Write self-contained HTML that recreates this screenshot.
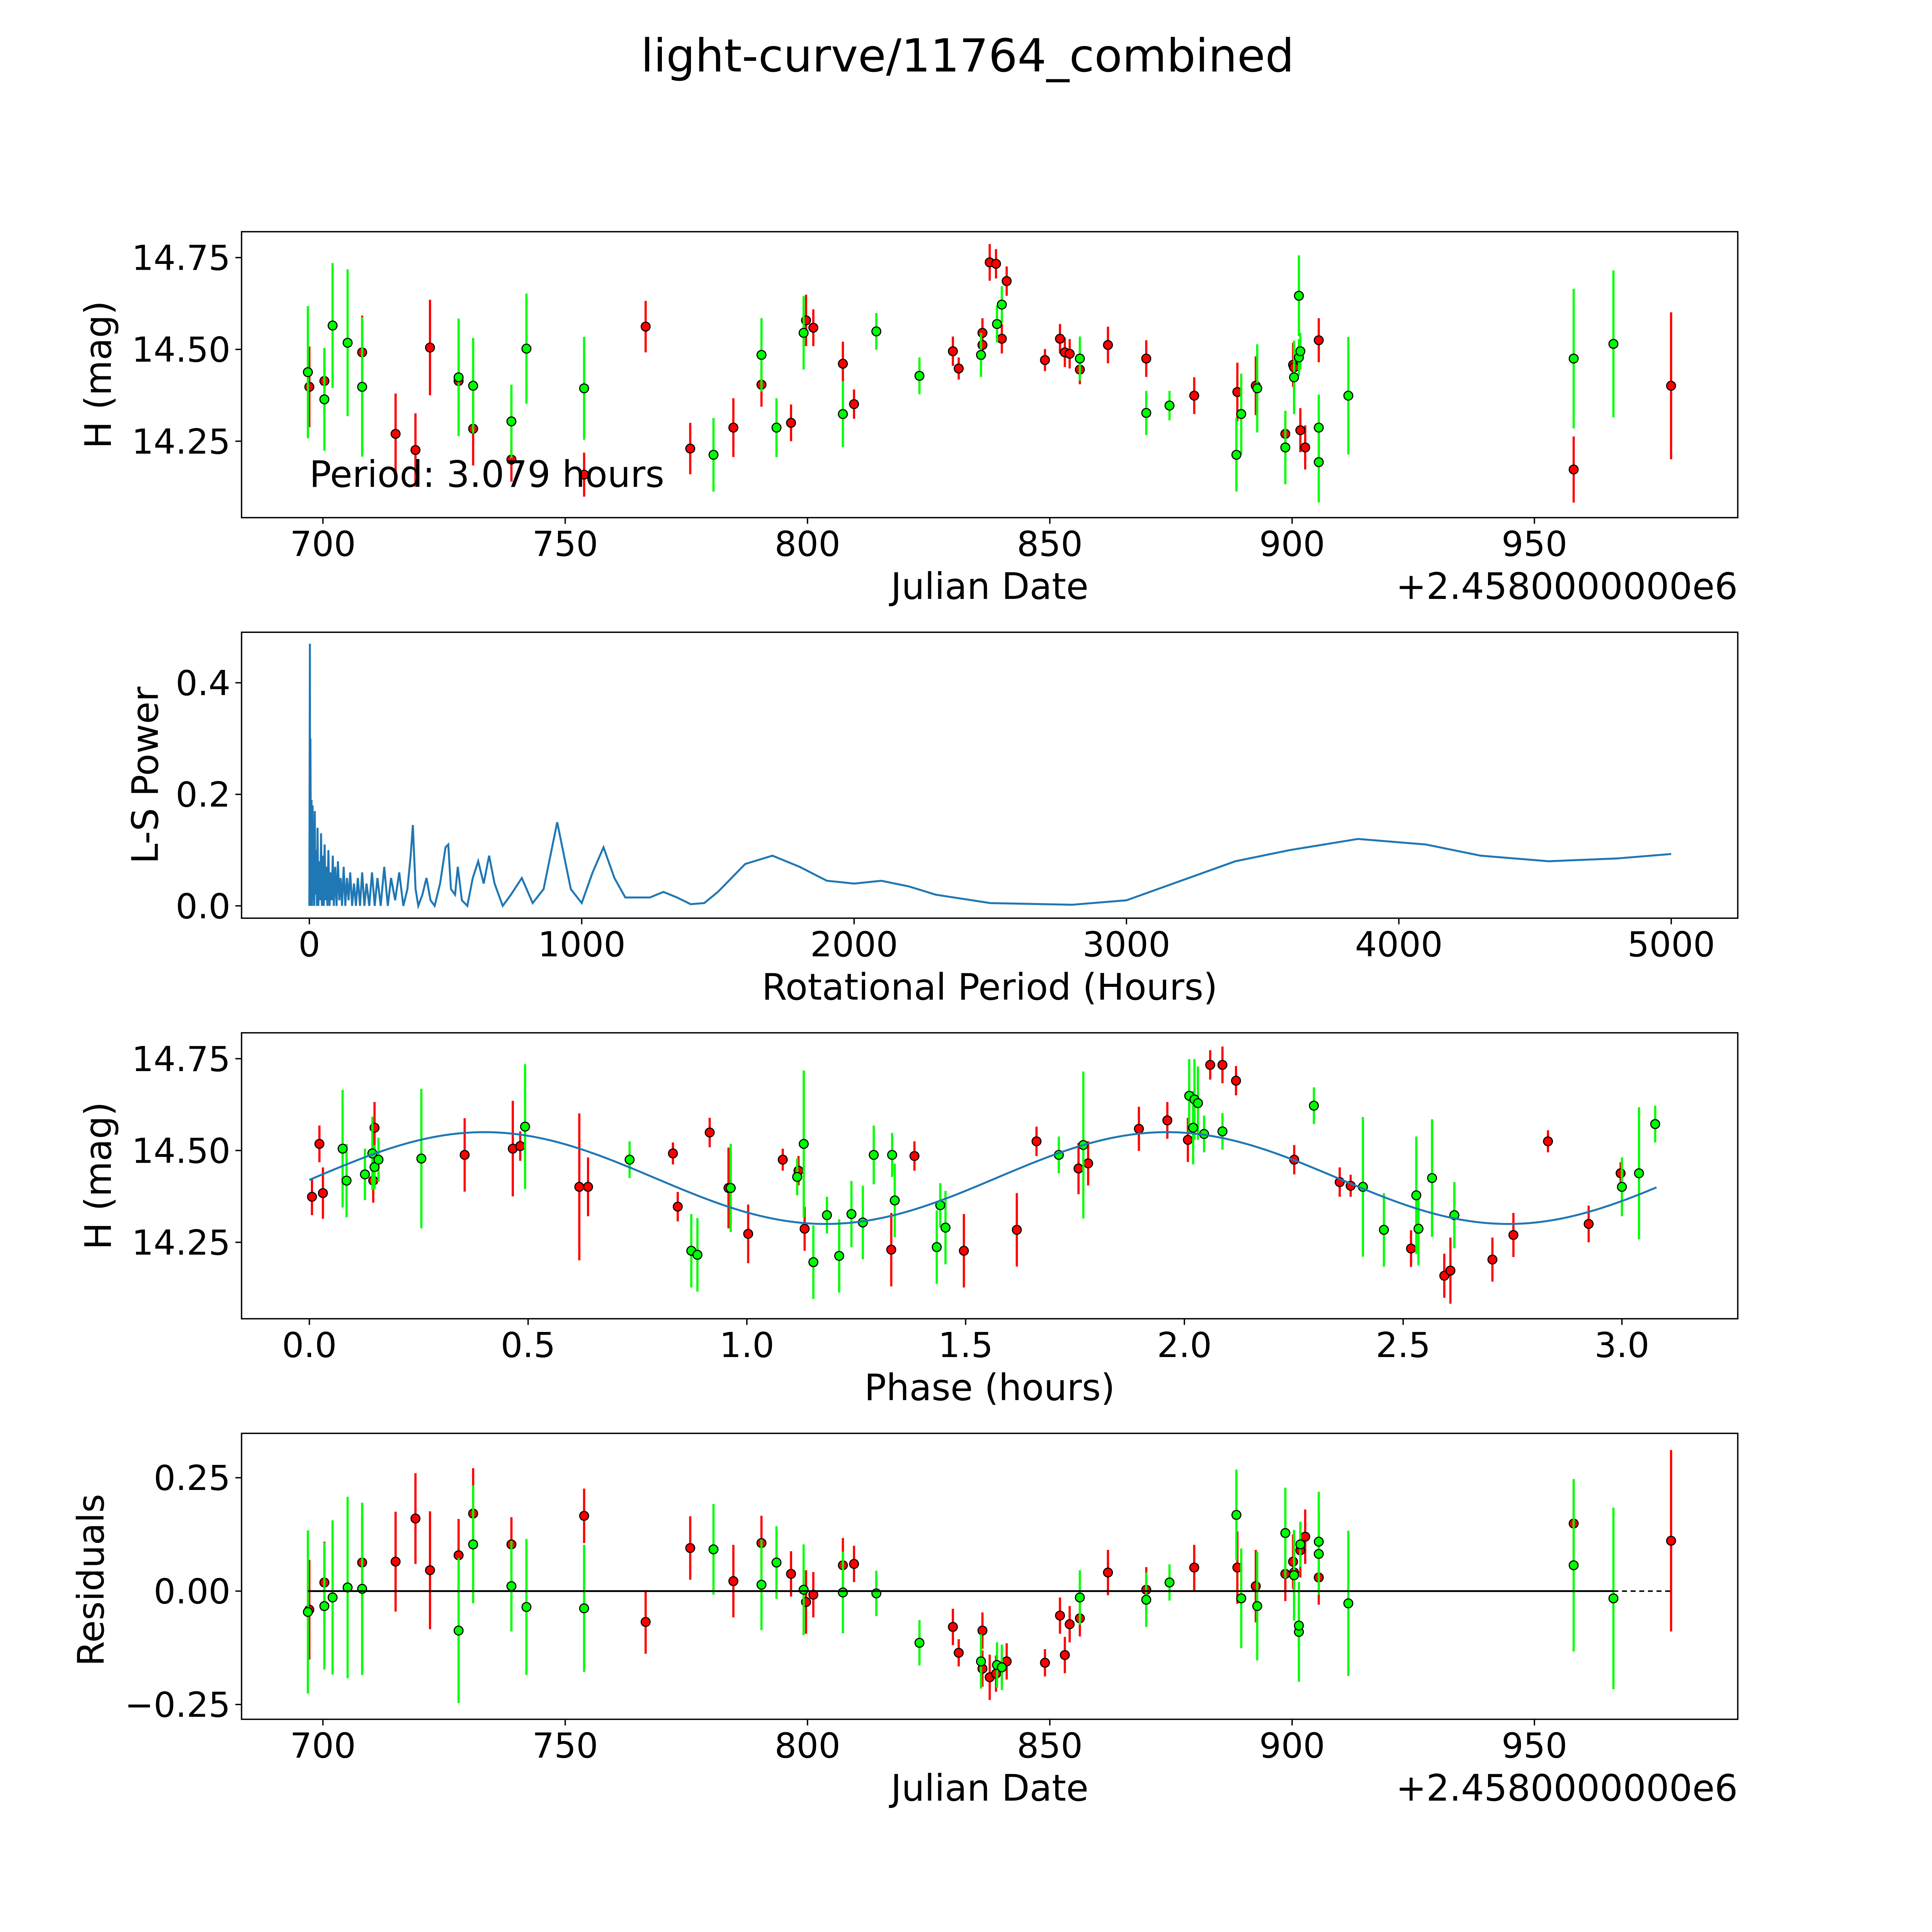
<!DOCTYPE html>
<html><head><meta charset="utf-8"><style>
html,body{margin:0;padding:0;background:#fff;overflow:hidden}
svg{display:block}
text{font-family:"DejaVu Sans","Liberation Sans",sans-serif;fill:#000}
</style></head><body>
<svg id="fig" width="5400" height="5400" viewBox="0 0 1693 1693" xmlns="http://www.w3.org/2000/svg">
<rect width="1693" height="1693" fill="#fff"/>
<text x="785" y="58" font-size="37" text-anchor="middle">light-curve/11764_combined</text>
<g id="g1"></g>
<g id="g2"></g>
<g id="g3"></g>
<g id="g4"></g>
</svg>
<script>
// ---- light curve data ----
const greenDates=[696.9,700.3,702.0,705.1,708.1,728.0,731.0,738.9,742.0,753.9,780.6,790.5,793.6,799.2,807.3,814.2,823.1,835.8,839.1,840.1,856.2,869.9,874.7,888.5,889.5,892.8,898.6,900.4,901.4,901.4,901.7,905.5,905.5,911.6,958.1,966.3];
const greenMags=[14.438,14.364,14.565,14.518,14.398,14.424,14.401,14.304,14.502,14.394,14.213,14.485,14.287,14.545,14.324,14.549,14.428,14.485,14.569,14.622,14.475,14.327,14.347,14.213,14.324,14.394,14.233,14.424,14.646,14.478,14.495,14.193,14.287,14.374,14.475,14.515];
const greenErrs=[0.18,0.14,0.17,0.2,0.19,0.16,0.13,0.1,0.15,0.14,0.1,0.1,0.08,0.1,0.09,0.05,0.05,0.06,0.05,0.05,0.06,0.06,0.04,0.1,0.11,0.12,0.1,0.1,0.11,0.05,0.05,0.11,0.09,0.16,0.19,0.2];
const greenRes=[-0.046,-0.033,-0.014,0.008,0.005,-0.087,0.103,0.011,-0.035,-0.038,0.092,0.014,0.063,0.003,-0.003,-0.005,-0.114,-0.155,-0.163,-0.168,-0.014,-0.019,0.019,0.168,-0.016,-0.033,0.128,0.035,-0.090,-0.076,0.103,0.109,0.082,-0.027,0.057,-0.016];
const redDates=[697.2,700.3,708.1,715.0,719.1,722.1,728.0,731.0,738.9,753.9,766.6,775.8,784.7,790.5,796.6,799.7,801.2,807.3,809.6,830.0,831.2,836.1,836.1,837.6,838.9,840.1,841.1,849.0,852.1,853.1,854.1,856.2,862.0,869.9,879.8,888.7,892.5,898.6,900.2,900.4,901.7,902.7,905.5,958.1,978.2];
const redMags=[14.398,14.414,14.492,14.270,14.226,14.505,14.414,14.284,14.200,14.159,14.562,14.230,14.287,14.404,14.300,14.579,14.559,14.461,14.351,14.495,14.448,14.545,14.512,14.737,14.733,14.529,14.686,14.471,14.529,14.492,14.488,14.445,14.512,14.475,14.374,14.384,14.401,14.270,14.458,14.451,14.280,14.233,14.525,14.173,14.401];
const redErrs=[0.11,0.09,0.1,0.11,0.1,0.13,0.08,0.1,0.06,0.06,0.07,0.07,0.08,0.06,0.05,0.07,0.05,0.06,0.04,0.04,0.03,0.04,0.04,0.05,0.04,0.04,0.04,0.03,0.04,0.04,0.04,0.04,0.05,0.05,0.05,0.08,0.08,0.06,0.06,0.05,0.06,0.06,0.06,0.09,0.2];
const redRes=[-0.041,0.019,0.063,0.065,0.160,0.046,0.079,0.171,0.103,0.166,-0.068,0.095,0.022,0.106,0.038,-0.024,-0.008,0.057,0.060,-0.079,-0.136,-0.087,-0.171,-0.190,-0.182,-0.168,-0.155,-0.158,-0.054,-0.141,-0.073,-0.06,0.041,0.003,0.052,0.052,0.011,0.038,0.065,0.041,0.090,0.120,0.030,0.149,0.111];
// ---- phase folded data ----
const redPhase=[0.006,0.023,0.031,0.146,0.149,0.355,0.465,0.482,0.617,0.637,0.831,0.842,0.915,0.958,0.963,1.003,1.082,1.118,1.132,1.330,1.383,1.496,1.617,1.662,1.758,1.780,1.896,1.961,2.008,2.059,2.087,2.118,2.251,2.355,2.380,2.518,2.594,2.608,2.704,2.752,2.831,2.924,2.997];
const redPhaseMags=[14.374,14.518,14.384,14.418,14.562,14.488,14.505,14.512,14.401,14.401,14.492,14.347,14.549,14.398,14.398,14.273,14.475,14.445,14.287,14.230,14.485,14.227,14.284,14.525,14.451,14.465,14.559,14.582,14.529,14.733,14.733,14.690,14.475,14.414,14.404,14.233,14.159,14.173,14.203,14.270,14.525,14.300,14.438];
const redPhaseErrs=[0.05,0.05,0.07,0.06,0.07,0.1,0.13,0.04,0.2,0.08,0.03,0.04,0.04,0.11,0.1,0.08,0.03,0.04,0.06,0.1,0.04,0.1,0.1,0.04,0.07,0.06,0.06,0.05,0.06,0.04,0.05,0.04,0.04,0.04,0.03,0.05,0.06,0.09,0.06,0.06,0.03,0.05,0.03];
const greenPhase=[0.076,0.085,0.127,0.144,0.149,0.158,0.256,0.493,0.732,0.873,0.887,0.963,1.115,1.130,1.152,1.183,1.211,1.239,1.265,1.290,1.332,1.338,1.434,1.442,1.454,1.713,1.769,2.011,2.020,2.023,2.031,2.045,2.087,2.296,2.408,2.456,2.530,2.535,2.566,2.617,3.000,3.039,3.076];
const greenPhaseMags=[14.505,14.418,14.435,14.492,14.455,14.475,14.478,14.565,14.475,14.227,14.216,14.398,14.428,14.518,14.196,14.324,14.213,14.327,14.304,14.488,14.488,14.364,14.237,14.351,14.290,14.488,14.515,14.649,14.562,14.639,14.629,14.545,14.552,14.622,14.401,14.284,14.378,14.287,14.425,14.324,14.401,14.438,14.572];
const greenPhaseErrs=[0.16,0.1,0.07,0.1,0.06,0.06,0.19,0.17,0.05,0.1,0.1,0.12,0.05,0.2,0.1,0.05,0.1,0.09,0.1,0.08,0.06,0.1,0.1,0.06,0.1,0.05,0.2,0.1,0.1,0.11,0.1,0.05,0.05,0.05,0.19,0.1,0.16,0.1,0.16,0.09,0.08,0.18,0.05];
// ---- periodogram ----
const periods=[0,2,3,4,6,8,10,12,14,16,18,20,22,25,28,30,33,36,40,43,46,50,53,56,60,63,66,70,74,78,82,86,90,95,100,105,110,115,120,126,132,138,144,150,157,164,171,178,186,194,202,210,220,230,240,250,262,275,288,300,315,330,345,360,372,380,390,400,415,430,445,460,480,500,510,520,535,545,560,580,600,620,640,660,680,710,740,780,820,860,910,960,1000,1040,1080,1120,1160,1200,1250,1300,1350,1400,1450,1500,1600,1700,1800,1900,2000,2100,2200,2300,2500,2800,3000,3200,3400,3600,3850,4100,4300,4550,4800,5000];
const powers=[0,0.47,0.0,0.30,0.02,0.19,0.0,0.18,0.01,0.12,0.0,0.17,0.02,0.10,0.0,0.14,0.0,0.08,0.01,0.13,0.0,0.09,0.0,0.11,0.01,0.07,0.0,0.10,0.0,0.06,0.01,0.09,0.0,0.07,0.0,0.08,0.01,0.05,0.0,0.07,0.0,0.05,0.01,0.06,0.0,0.04,0.0,0.05,0.0,0.06,0.0,0.04,0.0,0.06,0.0,0.05,0.0,0.07,0.0,0.05,0.01,0.06,0.0,0.03,0.09,0.145,0.03,0.0,0.02,0.05,0.01,0.0,0.04,0.105,0.11,0.03,0.02,0.07,0.01,0.0,0.05,0.08,0.04,0.09,0.04,0.0,0.02,0.05,0.005,0.03,0.15,0.03,0.005,0.06,0.105,0.05,0.015,0.015,0.015,0.025,0.015,0.003,0.005,0.025,0.075,0.09,0.07,0.045,0.04,0.045,0.035,0.02,0.005,0.002,0.01,0.045,0.08,0.1,0.12,0.11,0.09,0.08,0.085,0.093];
const xTicksDate=[700,750,800,850,900,950];
const yTicksMag=[14.25,14.50,14.75];
const xTicksPeriod=[0,1000,2000,3000,4000,5000];
const yTicksPower=[0.0,0.2,0.4];
const xTicksPhase=[0.0,0.5,1.0,1.5,2.0,2.5,3.0];
const yTicksRes=[-0.25,0.00,0.25];

const NS='http://www.w3.org/2000/svg';
function mk(parent,tag,attrs){const e=document.createElementNS(NS,tag);for(const k in attrs)e.setAttribute(k,attrs[k]);parent.appendChild(e);return e;}
const L=196,R=1410;
function axesBox(g,top,bot){
  const r=mk(g,'rect',{x:L,y:top,width:R-L,height:bot-top,fill:'none',stroke:'#000','stroke-width':1.1});
  
  
}
function xTicks(g,ticks,sx,bot,fmt){
  ticks.forEach(t=>{const x=sx(t);
    mk(g,'line',{x1:x,x2:x,y1:bot,y2:bot+5,stroke:'#000','stroke-width':1.1});
    const tx=mk(g,'text',{x:x,y:bot+31,'font-size':28,'text-anchor':'middle'});tx.textContent=fmt(t);
    
    
  });
}
function yTicks(g,ticks,sy,fmt){
  ticks.forEach(t=>{const y=sy(t);
    mk(g,'line',{x1:L-5,x2:L,y1:y,y2:y,stroke:'#000','stroke-width':1.1});
    const tx=mk(g,'text',{x:L-9,y:y+10,'font-size':28,'text-anchor':'end'});tx.textContent=fmt(t);
    
    
  });
}
function label(g,txt,x,y,rot,name,anchor){
  const t=mk(g,'text',{x:x,y:y,'font-size':29.5,'text-anchor':anchor||'middle'});
  if(rot)t.setAttribute('transform','rotate(-90 '+x+' '+y+')');
  t.textContent=txt;
  
  
}
function points(g,xs,ys,es,sx,sy,col,ecol){
  xs.forEach((v,i)=>{const x=sx(v);
    const l=mk(g,'line',{x1:x,x2:x,y1:sy(ys[i]-es[i]),y2:sy(ys[i]+es[i]),stroke:ecol,'stroke-width':1.8});
    
    
  });
  xs.forEach((v,i)=>{
    const c=mk(g,'circle',{cx:sx(v),cy:sy(ys[i]),r:3.6,fill:col,stroke:'#000','stroke-width':0.9});
    
    
  });
}
const f2=t=>t.toFixed(2);
// panel 1
(function(){const g=document.getElementById('g1');const top=188,bot=420;
  const sx=d=>262+(d-700)*3.932, sy=m=>209+(14.75-m)*298;
  axesBox(g,top,bot);
  points(g,redDates,redMags,redErrs,sx,sy,'#ff0000','#ff0000');
  points(g,greenDates,greenMags,greenErrs,sx,sy,'#00ff00','#00ff00');
  xTicks(g,xTicksDate,sx,bot,t=>String(t));yTicks(g,yTicksMag,sy,f2);
  label(g,'Julian Date',803,486,false,'x-axis-title');
  label(g,'+2.4580000000e6',1410,486,false,'x-offset-label','end');
  label(g,'H (mag)',90,304,true,'y-axis-title');
  label(g,'Period: 3.079 hours',251,395,false,'period-annotation','start');
})();
// panel 2
(function(){const g=document.getElementById('g2');const top=513,bot=745;
  const sx=p=>251+p*0.221, sy=v=>735-v*452.5;
  axesBox(g,top,bot);
  const pts=periods.map((p,i)=>sx(p).toFixed(2)+','+sy(powers[i]).toFixed(2)).join(' ');
  const pl=mk(g,'polyline',{points:pts,fill:'none',stroke:'#1f77b4','stroke-width':1.6});
  
  
  xTicks(g,xTicksPeriod,sx,bot,t=>String(t));yTicks(g,yTicksPower,sy,t=>t.toFixed(1));
  label(g,'Rotational Period (Hours)',803,811,false,'x-axis-title');
  label(g,'L-S Power',128,629,true,'y-axis-title');
})();
// panel 3
(function(){const g=document.getElementById('g3');const top=838,bot=1070;
  const sx=p=>251+p*355, sy=m=>859+(14.75-m)*298;
  axesBox(g,top,bot);
  points(g,redPhase,redPhaseMags,redPhaseErrs,sx,sy,'#ff0000','#ff0000');
  points(g,greenPhase,greenPhaseMags,greenPhaseErrs,sx,sy,'#00ff00','#00ff00');
  let s=[];for(let i=0;i<=200;i++){const p=3.079*i/200;const m=14.425+0.125*Math.cos(2*Math.PI*(p-0.40)/1.56);s.push(sx(p).toFixed(2)+','+sy(m).toFixed(2));}
  const pl=mk(g,'polyline',{points:s.join(' '),fill:'none',stroke:'#1f77b4','stroke-width':1.6});
  
  
  xTicks(g,xTicksPhase,sx,bot,t=>t.toFixed(1));yTicks(g,yTicksMag,sy,f2);
  label(g,'Phase (hours)',803,1136,false,'x-axis-title');
  label(g,'H (mag)',90,954,true,'y-axis-title');
})();
// panel 4
(function(){const g=document.getElementById('g4');const top=1163,bot=1395;
  const sx=d=>262+(d-700)*3.932, sy=r=>1291-r*368;
  axesBox(g,top,bot);
  points(g,redDates,redRes,redErrs,sx,sy,'#ff0000','#ff0000');
  points(g,greenDates,greenRes,greenErrs,sx,sy,'#00ff00','#00ff00');
  const z1=mk(g,'line',{x1:sx(696.9),x2:sx(966.3),y1:sy(0),y2:sy(0),stroke:'#000','stroke-width':1.5});
  
  
  const z2=mk(g,'line',{x1:sx(966.3),x2:sx(978.2),y1:sy(0),y2:sy(0),stroke:'#000','stroke-width':1.2,'stroke-dasharray':'4,3'});
  
  
  xTicks(g,xTicksDate,sx,bot,t=>String(t));yTicks(g,yTicksRes,sy,t=>t<0?'\u2212'+(-t).toFixed(2):t.toFixed(2));
  label(g,'Julian Date',803,1461,false,'x-axis-title');
  label(g,'+2.4580000000e6',1410,1461,false,'x-offset-label','end');
  label(g,'Residuals',84,1282,true,'y-axis-title');
})();
</script>
</body></html>
